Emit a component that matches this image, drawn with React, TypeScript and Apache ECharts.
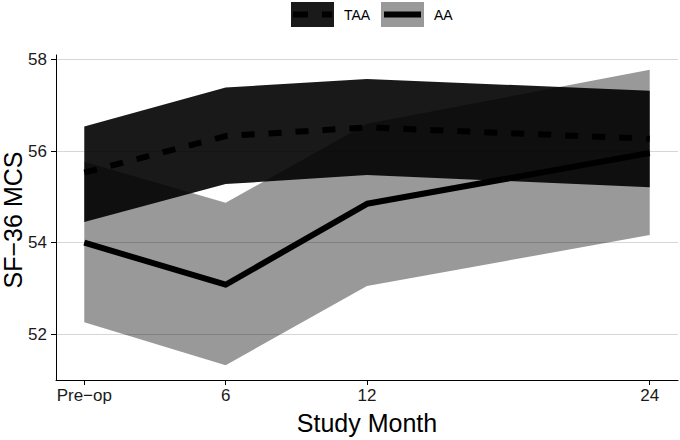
import React, { useEffect, useRef } from "react";
import * as echarts from "echarts";

const months = [0, 6, 12, 24];
const monthLabels = ["Pre−op", "6", "12", "24"];
const yTicks = [52, 54, 56, 58];

const taaMean = [55.53, 56.33, 56.52, 56.27];
const taaLower = [54.45, 55.28, 55.48, 55.21];
const taaUpper = [56.54, 57.39, 57.58, 57.32];

const aaMean = [54.0, 53.08, 54.85, 55.96];
const aaLower = [52.26, 51.32, 53.05, 54.17];
const aaUpper = [55.77, 54.87, 56.6, 57.78];

const FONT = "Liberation Sans, Arial, Helvetica, sans-serif";

function bandSeries(name: string, lower: number[], upper: number[], fill: string, z: number) {
  return {
    name,
    type: "custom",
    z,
    data: months.map((m, i) => [m, lower[i], upper[i]]),
    encode: { x: 0, y: [1, 2] },
    renderItem: (params: any, api: any) => {
      if (params.dataIndex !== 0) return null;
      const pts: number[][] = [];
      for (let i = 0; i < months.length; i++) pts.push(api.coord([months[i], upper[i]]));
      for (let i = months.length - 1; i >= 0; i--) pts.push(api.coord([months[i], lower[i]]));
      return { type: "polygon", shape: { points: pts }, style: { fill } };
    },
  };
}

export default function App() {
  const ref = useRef<HTMLDivElement>(null);
  useEffect(() => {
    if (!ref.current) return;
    const chart = echarts.init(ref.current, null, { renderer: "svg" });
    chart.setOption({
      animation: false,
      backgroundColor: "#ffffff",
      textStyle: { fontFamily: FONT },
      grid: { left: 56, right: 2, top: 55, bottom: 56, containLabel: false },
      xAxis: {
        type: "value",
        min: -1.2,
        max: 25.2,
        name: "Study Month",
        nameLocation: "middle",
        nameGap: 30,
        nameTextStyle: { fontSize: 25, color: "#000", fontFamily: FONT },
        axisLine: { show: true, onZero: false, lineStyle: { color: "#000", width: 1 } },
        axisTick: { show: true, length: 5, customValues: months, lineStyle: { color: "#000" } },
        axisLabel: {
          customValues: months,
          fontSize: 17,
          color: "#1a1a1a",
          margin: 7,
          fontFamily: FONT,
          formatter: (v: number) => monthLabels[months.indexOf(v)] ?? String(v),
        },
        splitLine: { show: false },
      },
      yAxis: {
        type: "value",
        min: 50.997,
        max: 58.103,
        axisLine: { show: true, onZero: false, lineStyle: { color: "#000", width: 1 } },
        axisTick: { show: true, length: 5, customValues: yTicks, lineStyle: { color: "#000" } },
        axisLabel: {
          customValues: yTicks,
          fontSize: 17,
          color: "#1a1a1a",
          margin: 9,
          fontFamily: FONT,
        },
        splitLine: { show: true, lineStyle: { color: "#d6d6d6", width: 1 } },
      },
      series: [
        bandSeries("AA band", aaLower, aaUpper, "rgba(0,0,0,0.4)", 1),
        bandSeries("TAA band", taaLower, taaUpper, "rgba(0,0,0,0.9)", 2),
        {
          name: "AA",
          type: "line",
          z: 3,
          data: months.map((m, i) => [m, aaMean[i]]),
          showSymbol: false,
          symbol: "none",
          lineStyle: { color: "#000", width: 6, cap: "butt", join: "round" },
        },
        {
          name: "TAA",
          type: "line",
          z: 4,
          data: months.map((m, i) => [m, taaMean[i]]),
          showSymbol: false,
          symbol: "none",
          lineStyle: { color: "#000", width: 6, type: [13, 14], cap: "butt", join: "round" },
        },
      ],
      graphic: [
        {
          type: "text",
          x: 13,
          y: 220,
          rotation: Math.PI / 2,
          style: {
            text: "SF−36 MCS",
            fontSize: 25,
            lineHeight: 22,
            fill: "#000",
            fontFamily: FONT,
            align: "center",
            verticalAlign: "middle",
          },
        },
        { type: "rect", left: 291, top: 2, shape: { width: 43, height: 25 }, style: { fill: "#1a1a1a" } },
        {
          type: "line",
          shape: { x1: 293, y1: 14.5, x2: 332, y2: 14.5 },
          style: { stroke: "#000", lineWidth: 6, lineDash: [15, 14], lineCap: "butt" },
        },
        {
          type: "text",
          x: 344,
          y: 14.5,
          style: { text: "TAA", fontSize: 14, fill: "#000", fontFamily: FONT, verticalAlign: "middle", align: "left" },
        },
        { type: "rect", left: 381, top: 2, shape: { width: 43, height: 25 }, style: { fill: "#999999" } },
        {
          type: "line",
          shape: { x1: 384, y1: 14.5, x2: 421, y2: 14.5 },
          style: { stroke: "#000", lineWidth: 6, lineCap: "butt" },
        },
        {
          type: "text",
          x: 434,
          y: 14.5,
          style: { text: "AA", fontSize: 14, fill: "#000", fontFamily: FONT, verticalAlign: "middle", align: "left" },
        },
      ],
    });
    return () => chart.dispose();
  }, []);
  return (
    <div
      ref={ref}
      style={{ position: "fixed", left: 0, top: 0, width: 680, height: 440, background: "#fff" }}
    />
  );
}
